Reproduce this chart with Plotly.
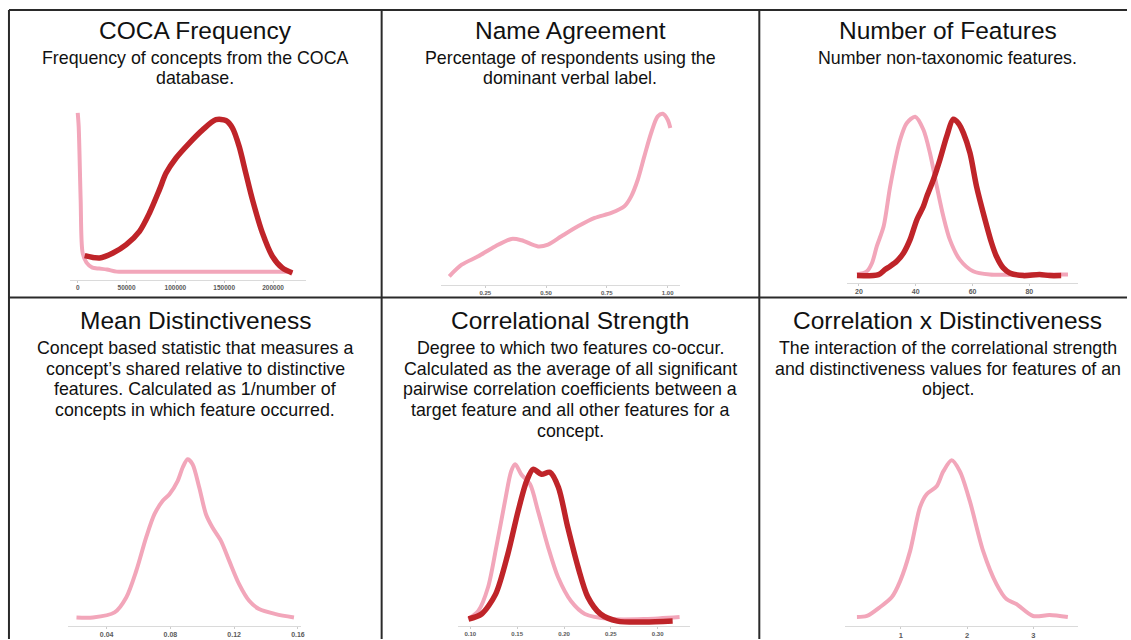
import plotly.graph_objects as go

W, H = 1131, 640
PINK = "#F2A6BA"
RED = "#BF2429"
FONT = "Liberation Sans, Arial, Helvetica, sans-serif"

# ---- density curves (relative density, peak = 1) ----
# COCA Frequency
coca_x_pink = [0, 1000, 3000, 5000, 9000, 15000, 22000, 30000, 40000, 60000, 220000]
coca_y_pink = [1.0, 0.913, 0.46, 0.13, 0.068, 0.037, 0.031, 0.025, 0.012, 0.012, 0.012]
coca_x_red = [7143, 22449, 36054, 49660, 63265, 73469, 83673, 90476, 100680, 114286,
              127891, 141497, 151701, 158503, 165306, 172109, 178912, 189116, 199320,
              209524, 219728]
coca_y_red = [0.112, 0.097, 0.128, 0.18, 0.263, 0.377, 0.522, 0.625, 0.719, 0.812,
              0.894, 0.957, 0.952, 0.905, 0.791, 0.625, 0.46, 0.253, 0.108, 0.035, 0.004]

# Name Agreement
name_x = [0.102, 0.153, 0.221, 0.29, 0.358, 0.399, 0.467, 0.508, 0.563, 0.631, 0.70,
          0.768, 0.822, 0.85, 0.877, 0.904, 0.932, 0.959, 0.98, 1.0, 1.011]
name_y = [0.02, 0.09, 0.14, 0.2, 0.245, 0.237, 0.2, 0.211, 0.261, 0.321, 0.372,
          0.402, 0.442, 0.502, 0.602, 0.743, 0.884, 0.984, 1.0, 0.964, 0.914]

# Number of Features
feat_x_pink = [19.3, 22.8, 24.6, 26.3, 28.7, 31.0, 34.5, 36.8, 39.8, 42.7, 45.0, 47.4,
               49.7, 52.0, 55.5, 60.2, 66.1, 77.8, 93.6]
feat_y_pink = [0.0125, 0.033, 0.085, 0.19, 0.315, 0.565, 0.856, 0.96, 1.0, 0.919, 0.773,
               0.565, 0.377, 0.231, 0.106, 0.033, 0.0125, 0.0125, 0.0125]
feat_x_red = [19.3, 26.9, 29.2, 31.0, 33.3, 35.7, 38.0, 40.4, 42.7, 43.9, 46.2, 48.5,
              50.9, 53.2, 55.0, 56.8, 59.1, 61.4, 64.4, 66.7, 68.4, 70.8, 73.1, 77.8,
              83.6, 87.1, 91.2]
feat_y_red = [0.006, 0.0125, 0.044, 0.065, 0.096, 0.148, 0.231, 0.356, 0.44, 0.502,
              0.606, 0.731, 0.877, 0.985, 0.96, 0.898, 0.773, 0.565, 0.356, 0.21, 0.127,
              0.054, 0.023, 0.006, 0.0125, 0.006, 0.006]

# Mean Distinctiveness
dist_x = [0.0211, 0.0314, 0.045, 0.0523, 0.0586, 0.0648, 0.07, 0.0752, 0.0794, 0.0846,
          0.0877, 0.0908, 0.0939, 0.0981, 0.1023, 0.1064, 0.1117, 0.1169, 0.1231,
          0.1294, 0.1356, 0.1461, 0.1575]
dist_y = [0.004, 0.004, 0.036, 0.13, 0.298, 0.508, 0.654, 0.738, 0.78, 0.864, 0.948,
          1.0, 0.969, 0.822, 0.654, 0.57, 0.486, 0.36, 0.214, 0.109, 0.057, 0.025, 0.004]

# Correlational Strength
corr_x_pink = [0.0979, 0.1085, 0.119, 0.1277, 0.137, 0.1436, 0.1479, 0.1543, 0.1638,
               0.1723, 0.183, 0.1936, 0.2074, 0.2223, 0.25, 0.2862, 0.3234]
corr_y_pink = [0.019, 0.07, 0.222, 0.475, 0.766, 0.956, 1.0, 0.937, 0.873, 0.703, 0.475,
               0.285, 0.133, 0.051, 0.019, 0.019, 0.032]
corr_x_red = [0.098, 0.112, 0.127, 0.140, 0.151, 0.160, 0.167, 0.176, 0.185, 0.194,
              0.204, 0.215, 0.2255, 0.239, 0.257, 0.286, 0.316]
corr_y_red = [0.019, 0.051, 0.177, 0.43, 0.703, 0.892, 0.968, 0.937, 0.949, 0.854,
              0.601, 0.348, 0.158, 0.051, 0.006, 0.0, 0.006]

# Correlation x Distinctiveness
cxd_x = [0.338, 0.489, 0.689, 0.865, 0.99, 1.14, 1.29, 1.39, 1.541, 1.642, 1.767, 1.892,
         2.042, 2.243, 2.444, 2.594, 2.744, 2.995, 3.245, 3.521]
cxd_y = [0.006, 0.013, 0.07, 0.133, 0.234, 0.424, 0.703, 0.785, 0.835, 0.93, 1.0, 0.93,
         0.741, 0.424, 0.215, 0.12, 0.089, 0.013, 0.019, 0.006]

# ---- panel text ----
titles = ["COCA Frequency", "Name Agreement", "Number of Features",
          "Mean Distinctiveness", "Correlational Strength", "Correlation x Distinctiveness"]
descriptions = [
    ["Frequency of concepts from the COCA", "database."],
    ["Percentage of respondents using the", "dominant verbal label."],
    ["Number non-taxonomic features."],
    ["Concept based statistic that measures a", "concept\u2019s shared relative to distinctive",
     "features. Calculated as 1/number of", "concepts in which feature occurred."],
    ["Degree to which two features co-occur.", "Calculated as the average of all significant",
     "pairwise correlation coefficients between a", "target feature and all other features for a",
     "concept."],
    ["The interaction of the correlational strength", "and distinctiveness values for features of an",
     "object."],
]

tick_vals = [
    [0, 50000, 100000, 150000, 200000],
    [0.25, 0.5, 0.75, 1.0],
    [20, 40, 60, 80],
    [0.04, 0.08, 0.12, 0.16],
    [0.10, 0.15, 0.20, 0.25, 0.30],
    [1, 2, 3],
]
tick_text = [
    ["0", "50000", "100000", "150000", "200000"],
    ["0.25", "0.50", "0.75", "1.00"],
    ["20", "40", "60", "80"],
    ["0.04", "0.08", "0.12", "0.16"],
    ["0.10", "0.15", "0.20", "0.25", "0.30"],
    ["1", "2", "3"],
]

curves = [
    [(coca_x_pink, coca_y_pink, PINK, 4), (coca_x_red, coca_y_red, RED, 5.5)],
    [(name_x, name_y, PINK, 4)],
    [(feat_x_pink, feat_y_pink, PINK, 4), (feat_x_red, feat_y_red, RED, 5.5)],
    [(dist_x, dist_y, PINK, 4)],
    [(corr_x_pink, corr_y_pink, PINK, 4), (corr_x_red, corr_y_red, RED, 5.5)],
    [(cxd_x, cxd_y, PINK, 4)],
]

# plot boxes in pixels: (left, right, top, bottom), axis ranges, tick font size
boxes = [
    dict(px=(70, 307, 100, 280), xr=(-8163, 233673), yr=(-0.0373, 1.0807), fs=6.5),
    dict(px=(443, 682, 100, 285), xr=(0.0697, 1.049), yr=(-0.030, 1.084), fs=6),
    dict(px=(850, 1082, 100, 283), xr=(15.79, 97.19), yr=(-0.0375, 1.106), fs=7),
    dict(px=(68, 302, 445, 627), xr=(0.015625, 0.161875), yr=(-0.050, 1.094), fs=7),
    dict(px=(460, 692, 445, 627), xr=(0.08723, 0.33404), yr=(-0.0253, 1.1266), fs=6),
    dict(px=(848, 1082, 445, 627), xr=(0.1579, 3.6767), yr=(-0.0506, 1.1013), fs=7.5),
]

col_centers = [196, 572.5, 951]
title_y = [31, 321]
desc_y0 = [58, 348.5]
desc_step = [20.5, 20.7]


def fx(px):
    return px / W


def fy(py):
    return 1 - py / H


fig = go.Figure()
layout = {}
annotations = []

for i in range(6):
    n = "" if i == 0 else str(i + 1)
    b = boxes[i]
    l, r, t, btm = b["px"]
    layout["xaxis" + n] = dict(
        domain=[fx(l), fx(r)], range=list(b["xr"]), anchor="y" + n,
        showline=True, linecolor="#DADADA", linewidth=1, showgrid=False, zeroline=False,
        tickvals=tick_vals[i], ticktext=tick_text[i], ticks="outside", ticklen=2,
        tickcolor="#CCCCCC",
        tickfont=dict(family=FONT, size=b["fs"], color="#5A5A5A", weight="bold"),
        fixedrange=True,
    )
    layout["yaxis" + n] = dict(
        domain=[fy(btm), fy(t)], range=list(b["yr"]), anchor="x" + n,
        visible=False, fixedrange=True,
    )
    for xs, ys, color, width in curves[i]:
        fig.add_trace(go.Scatter(
            x=xs, y=ys, mode="lines", xaxis="x" + n, yaxis="y" + n,
            line=dict(color=color, width=width, shape="spline", smoothing=0.8),
            showlegend=False, hoverinfo="skip",
        ))

    row, col = divmod(i, 3)
    cx = col_centers[col]
    annotations.append(dict(
        text=titles[i], x=fx(cx), y=fy(title_y[row]), xref="paper", yref="paper",
        xanchor="center", yanchor="middle", showarrow=False,
        font=dict(family=FONT, size=24.5, color="#111111"),
    ))
    for k, line in enumerate(descriptions[i]):
        annotations.append(dict(
            text=line, x=fx(cx), y=fy(desc_y0[row] + k * desc_step[row]),
            xref="paper", yref="paper", xanchor="center", yanchor="middle",
            showarrow=False, font=dict(family=FONT, size=17.8, color="#111111"),
        ))

# panel grid lines
border = dict(color="#2A2A2A", width=2)
shapes = [
    dict(type="line", xref="paper", yref="paper", x0=fx(9), x1=fx(9), y0=fy(10), y1=fy(640), line=border),
    dict(type="line", xref="paper", yref="paper", x0=fx(383), x1=fx(383), y0=fy(10), y1=fy(640), line=border),
    dict(type="line", xref="paper", yref="paper", x0=fx(762), x1=fx(762), y0=fy(10), y1=fy(640), line=border),
    dict(type="line", xref="paper", yref="paper", x0=fx(9), x1=fx(1131), y0=fy(10), y1=fy(10), line=border),
    dict(type="line", xref="paper", yref="paper", x0=fx(9), x1=fx(1131), y0=fy(298), y1=fy(298), line=border),
]

fig.update_layout(
    width=W, height=H, margin=dict(l=0, r=0, t=0, b=0),
    paper_bgcolor="white", plot_bgcolor="rgba(0,0,0,0)",
    annotations=annotations, shapes=shapes, **layout,
)

fig.write_html("out.html", config={"displayModeBar": False})
